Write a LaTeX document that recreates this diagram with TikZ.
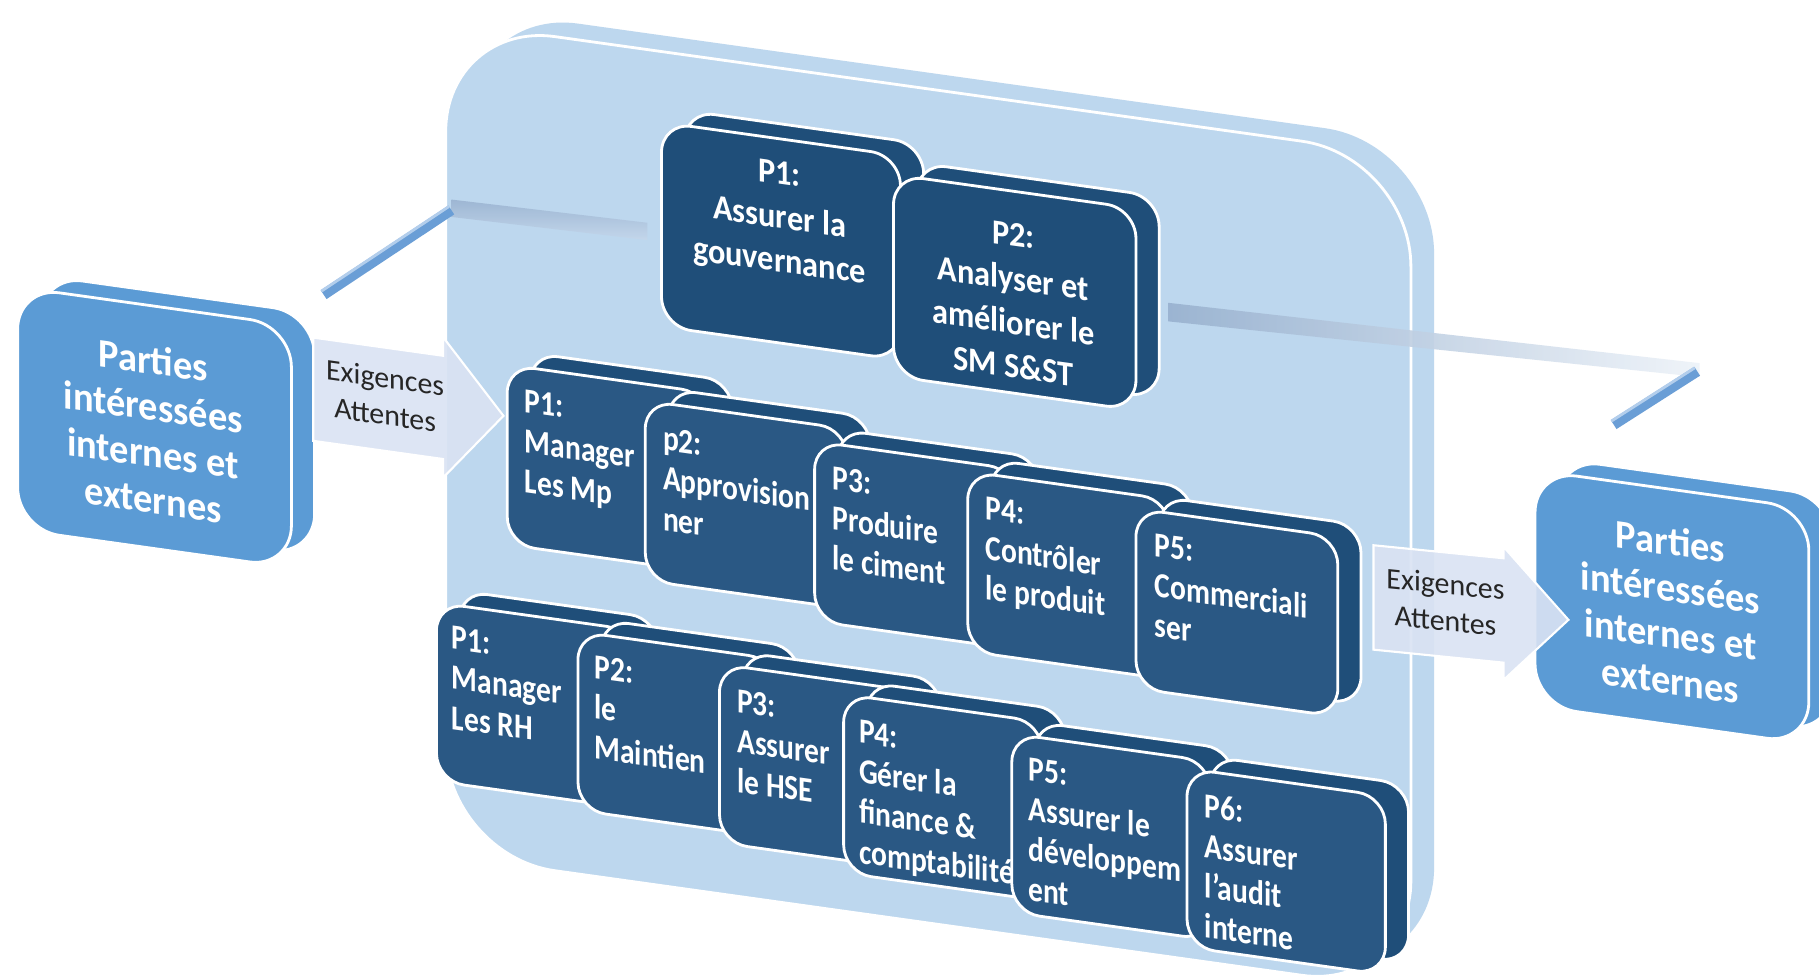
\documentclass[tikz,border=0pt]{standalone}
\usepackage{fontspec}
\setmainfont{Carlito}
\usetikzlibrary{calc}

\definecolor{panelblue}{HTML}{BDD7EE}
\definecolor{partyblue}{HTML}{5B9BD5}
\definecolor{navy}{HTML}{1F4E79}
\definecolor{procfront}{HTML}{2A5884}
\definecolor{arrowfill}{HTML}{DAE3F3}
\definecolor{barflat}{HTML}{98B1CF}
\definecolor{barflatlow}{HTML}{C5D7EB}
\definecolor{bardiag}{HTML}{6A9ED6}
\definecolor{bardiaglight}{HTML}{B3CEEC}
\definecolor{labelgrey}{HTML}{262626}

\tikzset{
  face/.style={draw=white, line width=0.8pt, transform shape, inner sep=0pt, anchor=north west},
  top front/.style={fill=navy, rounded corners=0.30cm},
  top back/.style={fill=navy, rounded corners=0.30cm},
  top text/.style={transform shape, xscale=0.92, inner sep=0pt, text=white,
    font=\bfseries\fontsize{10}{12.5}\selectfont, align=center, anchor=north},
  row front/.style={fill=procfront, rounded corners=0.28cm},
  row back/.style={fill=navy, rounded corners=0.28cm},
  row text/.style={transform shape, xscale=0.84, inner sep=0pt, text=white,
    font=\bfseries\fontsize{10}{11.4}\selectfont, align=left, anchor=north west},
  party front/.style={fill=partyblue, rounded corners=0.42cm},
  party back/.style={fill=partyblue, rounded corners=0.42cm},
  party text/.style={transform shape, xscale=0.95, inner sep=0pt, text=white,
    font=\bfseries\fontsize{11.5}{13.2}\selectfont, align=center, anchor=north},
  flow arrow/.style={fill=arrowfill, fill opacity=0.9, draw=white, line width=0.6pt},
  flow text/.style={transform shape, inner sep=0pt, text=labelgrey,
    font=\fontsize{8.5}{10.5}\selectfont, align=center},
  bar diag/.style={draw=bardiag, line width=3pt},
  bar shine/.style={draw=bardiaglight, line width=0.8pt},
}

% Extruded rounded box seen in perspective:
% #1 name, #2 x, #3 y (front top-left), #4 width, #5 height,
% #6 kind (top/row/party), #7 text position, #8 text
\newcommand\procbox[8]{%
  \begin{scope}[shift={(#2,#3)}, yslant=-0.14]
    \node[face, #6 back, minimum width=#4*0.0116cm, minimum height=#5*0.0116cm] (#1-back) at (20,-13) {};
    \node[face, #6 front, minimum width=#4*0.0116cm, minimum height=#5*0.0116cm] (#1) at (0,0) {};
    \node[#6 text] (#1-label) at (#7) {#8};
  \end{scope}}

\begin{document}
\begin{tikzpicture}[x=0.0116cm, y=-0.0116cm]
\useasboundingbox (0,0) rectangle (1568,841);
\fill[white] (0,0) rectangle (1568,841);
\clip (0,0) rectangle (1568,841);

% large background panel
\begin{scope}[shift={(383,17)}, yslant=-0.14]
  \node[face, draw=none, fill=panelblue, rounded corners=1.1cm,
        minimum width=832*0.0116cm, minimum height=719*0.0116cm] (panel-back) at (20,-14) {};
  \node[face, fill=panelblue, rounded corners=1.1cm,
        minimum width=832*0.0116cm, minimum height=719*0.0116cm] (panel) at (0,0) {};
\end{scope}

% bracket bars
\coordinate (lbar-end) at (279,254);
\coordinate (lbar-knee) at (389,181);
\coordinate (rbar-knee) at (1463,320);
\coordinate (rbar-end) at (1391,366);
\shade[top color=barflat, bottom color=barflatlow, opacity=0.85]
  (389,172) -- (558,192) -- (558,207) -- (389,187) -- cycle;
\shade[left color=barflat, right color=barflatlow!30!white, opacity=0.9]
  (1007,261) -- (1465,313) -- (1465,325) -- (1007,277) -- cycle;
\draw[bar diag] (lbar-end) -- (lbar-knee);
\draw[bar shine] ($(lbar-end)+(-2,-3)$) -- ($(lbar-knee)+(-2,-3)$);
\draw[bar diag] (rbar-knee) -- (rbar-end);
\draw[bar shine] ($(rbar-knee)+(-2,-3)$) -- ($(rbar-end)+(-2,-3)$);

% interested parties
\procbox{partiesL}{14}{246}{236}{209}{party}{118,35}{Parties\\intéressées\\internes et\\externes}
\procbox{partiesR}{1322}{404}{236}{203}{party}{118,33}{Parties\\intéressées\\internes et\\externes}

% requirements flowing in and out
\begin{scope}[shift={(270,291)}, yslant=-0.14]
  \draw[flow arrow] (0,0) -- (112,0) -- (112,-16) -- (164,44.5) -- (112,105) -- (112,89) -- (0,89) -- cycle;
  \node[flow text] (in-label) at (62,42) {Exigences\\Attentes};
\end{scope}
\begin{scope}[shift={(1184,470)}, yslant=-0.10]
  \draw[flow arrow] (0,0) -- (112,0) -- (112,-10) -- (168,47.5) -- (112,105) -- (112,90) -- (0,90) -- cycle;
  \node[flow text] (out-label) at (62,43) {Exigences\\Attentes};
\end{scope}

% management processes
\procbox{gov}{569}{104}{206}{176}{top}{103,20}{P1:\\Assurer la\\gouvernance}
\procbox{improve}{769}{149}{209}{174}{top}{104.5,28}{P2:\\Analyser et\\améliorer le\\SM S\&ST}

% core processes
\procbox{mp}{436}{313}{174}{155}{row}{16,20}{P1:\\Manager\\Les Mp}
\procbox{supply}{555}{344}{174}{155}{row}{16,21}{p2:\\Approvision\\ner}
\procbox{cement}{701}{379}{174}{155}{row}{16,20}{P3:\\Produire\\le ciment}
\procbox{control}{833}{405}{174}{155}{row}{16,20}{P4:\\Contrôler\\le produit}
\procbox{sales}{978}{437}{174}{155}{row}{17,20}{P5:\\Commerciali\\ser}

% support processes
\procbox{hr}{375}{518}{171}{154}{row}{14,19}{P1:\\Manager\\Les RH}
\procbox{maint}{497}{543}{171}{154}{row}{15,19}{P2:\\le\\Maintien}
\procbox{hse}{619}{571}{171}{154}{row}{16,20}{P3:\\Assurer\\le HSE}
\procbox{finance}{726}{597}{171}{154}{row}{14,21}{P4:\\Gérer la\\finance \&\\comptabilité}
\procbox{dev}{871}{631}{171}{154}{row}{15,19}{P5:\\Assurer le\\développem\\ent}
\procbox{audit}{1022}{661}{171}{154}{row}{16,20}{P6:\\Assurer\\l’audit\\interne}
\end{tikzpicture}
\end{document}
